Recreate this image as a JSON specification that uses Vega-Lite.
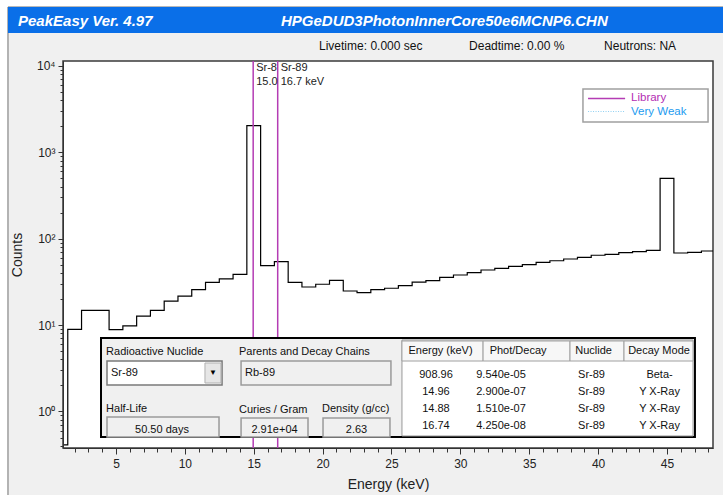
{
  "$schema": "https://vega.github.io/schema/vega-lite/v6.json",
  "width": 650,
  "height": 387,
  "autosize": {"type": "none"},
  "padding": {"left": 63, "top": 61, "right": 10, "bottom": 47},
  "background": "white",
  "config": {
    "view": {"stroke": null},
    "font": "Liberation Sans",
    "text": {"font": "Liberation Sans"}
  },
  "encoding": {
    "x": {
      "field": "energy", "type": "quantitative", "title": "Energy (keV)",
      "scale": {"domain": [1.154, 48.34], "nice": false, "zero": false},
      "axis": {
        "values": [2,3,4,5,6,7,8,9,10,11,12,13,14,15,16,17,18,19,20,21,22,23,24,25,26,27,28,29,30,31,32,33,34,35,36,37,38,39,40,41,42,43,44,45,46,47,48],
        "labelExpr": "datum.value % 5 === 0 ? datum.label : ''",
        "tickSize": {"condition": {"test": "datum.value % 5 === 0", "value": 6}, "value": 4},
        "labelOverlap": false, "labelFlush": false, "grid": false,
        "labelPadding": 4, "titlePadding": 8,
        "domainColor": "#333333", "tickColor": "#333333", "labelColor": "#222222", "titleColor": "#222222",
        "labelFontSize": 12, "titleFontSize": 14, "titleFontWeight": "normal", "zindex": 1
      }
    },
    "y": {
      "field": "counts", "type": "quantitative", "title": "Counts",
      "scale": {"type": "log", "domain": [0.378, 11398], "nice": false},
      "axis": {
        "values": [0.4,0.5,0.6,0.7,0.8,0.9,1,2,3,4,5,6,7,8,9,10,20,30,40,50,60,70,80,90,100,200,300,400,500,600,700,800,900,1000,2000,3000,4000,5000,6000,7000,8000,9000,10000],
        "labelExpr": "datum.value === 1 ? '10⁰' : datum.value === 10 ? '10¹' : datum.value === 100 ? '10²' : datum.value === 1000 ? '10³' : datum.value === 10000 ? '10⁴' : ''",
        "tickSize": {"condition": {"test": "indexof([1,10,100,1000,10000], datum.value) >= 0", "value": 5}, "value": 3},
        "labelOverlap": false, "labelFlush": false, "grid": false,
        "labelPadding": 3, "titlePadding": 12,
        "domainColor": "#333333", "tickColor": "#333333", "labelColor": "#222222", "titleColor": "#222222",
        "labelFontSize": 12, "titleFontSize": 14, "titleFontWeight": "normal", "zindex": 1
      }
    }
  },
  "layer": [
    {
      "data": {"values": [{"energy": -2.84, "energy2": 60, "counts": 48060, "counts2": 0.0555}]},
      "mark": {"type": "rect", "clip": false, "fill": "#F0F0F0", "stroke": "#707070", "strokeWidth": 1},
      "encoding": {"x2": {"field": "energy2"}, "y2": {"field": "counts2"}}
    },
    {
      "data": {"values": [{"energy": -2.84, "energy2": 60, "counts": 48060, "counts2": 24040}]},
      "mark": {"type": "rect", "clip": false, "fill": "#0A6FE8", "stroke": null},
      "encoding": {"x2": {"field": "energy2"}, "y2": {"field": "counts2"}}
    },
    {
      "data": {"values": [
        {"energy": -2.113, "counts": 33540, "label": "PeakEasy Ver. 4.97"},
        {"energy": 16.98, "counts": 33540, "label": "HPGeDUD3PhotonInnerCore50e6MCNP6.CHN"}
      ]},
      "mark": {"type": "text", "clip": false, "align": "left", "baseline": "middle", "color": "white", "fontSize": 15, "fontWeight": "bold", "fontStyle": "italic"},
      "encoding": {"text": {"field": "label"}}
    },
    {
      "data": {"values": [
        {"energy": 19.74, "counts": 16990, "label": "Livetime: 0.000 sec"},
        {"energy": 30.63, "counts": 16990, "label": "Deadtime: 0.00 %"},
        {"energy": 40.43, "counts": 16990, "label": "Neutrons: NA"}
      ]},
      "mark": {"type": "text", "clip": false, "align": "left", "baseline": "middle", "color": "#111111", "fontSize": 12},
      "encoding": {"text": {"field": "label"}}
    },
    {
      "data": {"values": [{"energy": 1.154, "energy2": 48.34, "counts": 0.378, "counts2": 11398}]},
      "mark": {"type": "rect", "clip": false, "fill": "white", "stroke": "#3A3A3A", "strokeWidth": 1.5},
      "encoding": {"x2": {"field": "energy2"}, "y2": {"field": "counts2"}}
    },
    {
      "data": {"values": [
        {"energy": 1, "counts": 0.41}, {"energy": 2, "counts": 8.94}, {"energy": 3, "counts": 14.8}, {"energy": 4, "counts": 14.8},
        {"energy": 5, "counts": 8.85}, {"energy": 6, "counts": 9.77}, {"energy": 7, "counts": 12.7}, {"energy": 8, "counts": 14.8},
        {"energy": 9, "counts": 18.9}, {"energy": 10, "counts": 21.7}, {"energy": 11, "counts": 25.7}, {"energy": 12, "counts": 31.3},
        {"energy": 13, "counts": 34.2}, {"energy": 14, "counts": 38.7}, {"energy": 15, "counts": 2032}, {"energy": 16, "counts": 48.7},
        {"energy": 17, "counts": 54.2}, {"energy": 18, "counts": 31.3}, {"energy": 19, "counts": 27.6}, {"energy": 20, "counts": 29.7},
        {"energy": 21, "counts": 33.0}, {"energy": 22, "counts": 24.8}, {"energy": 23, "counts": 23.7}, {"energy": 24, "counts": 25.7},
        {"energy": 25, "counts": 26.7}, {"energy": 26, "counts": 28.6}, {"energy": 27, "counts": 31.5}, {"energy": 28, "counts": 32.7},
        {"energy": 29, "counts": 35.7}, {"energy": 30, "counts": 38.0}, {"energy": 31, "counts": 40.4}, {"energy": 32, "counts": 43.4},
        {"energy": 33, "counts": 45.4}, {"energy": 34, "counts": 47.9}, {"energy": 35, "counts": 50.0}, {"energy": 36, "counts": 53.3},
        {"energy": 37, "counts": 55.6}, {"energy": 38, "counts": 58.2}, {"energy": 39, "counts": 60.9}, {"energy": 40, "counts": 64.3},
        {"energy": 41, "counts": 66.0}, {"energy": 42, "counts": 68.9}, {"energy": 43, "counts": 70.7}, {"energy": 44, "counts": 73.4},
        {"energy": 45, "counts": 500}, {"energy": 46, "counts": 68.3}, {"energy": 47, "counts": 69.6}, {"energy": 48, "counts": 72.1},
        {"energy": 49, "counts": 72.1}
      ]},
      "mark": {"type": "line", "interpolate": "step", "color": "#000000", "strokeWidth": 1.2, "clip": true},
      "encoding": {}
    },
    {
      "data": {"values": [
        {"energy": 14.96, "counts": 0.378, "counts2": 11398},
        {"energy": 16.74, "counts": 0.378, "counts2": 11398}
      ]},
      "mark": {"type": "rule", "color": "#B43CB4", "strokeWidth": 1.5},
      "encoding": {"y2": {"field": "counts2"}}
    },
    {
      "data": {"values": [
        {"energy": 14.96, "counts": 9456, "label": "Sr-89"},
        {"energy": 14.96, "counts": 6513, "label": "15.0 keV"}
      ]},
      "mark": {"type": "text", "align": "left", "baseline": "middle", "dx": 3, "fontSize": 11, "color": "#222222", "limit": 22, "ellipsis": "\u200b"},
      "encoding": {"text": {"field": "label"}}
    },
    {
      "data": {"values": [
        {"energy": 16.74, "counts": 9456, "label": "Sr-89"},
        {"energy": 16.74, "counts": 6513, "label": "16.7 keV"}
      ]},
      "mark": {"type": "text", "align": "left", "baseline": "middle", "dx": 3, "fontSize": 11, "color": "#222222"},
      "encoding": {"text": {"field": "label"}}
    },
    {
      "data": {"values": [{"energy": 38.90, "energy2": 47.98, "counts": 5403, "counts2": 2242}]},
      "mark": {"type": "rect", "fill": "white", "stroke": "#A0A0A0", "strokeWidth": 1.5},
      "encoding": {"x2": {"field": "energy2"}, "y2": {"field": "counts2"}}
    },
    {
      "data": {"values": [{"energy": 39.27, "energy2": 41.96, "counts": 4196}]},
      "mark": {"type": "rule", "color": "#B43CB4", "strokeWidth": 1.5},
      "encoding": {"x2": {"field": "energy2"}}
    },
    {
      "data": {"values": [{"energy": 39.27, "energy2": 41.96, "counts": 2966}]},
      "mark": {"type": "rule", "color": "#8FD0F2", "strokeWidth": 1, "strokeDash": [1, 1.5]},
      "encoding": {"x2": {"field": "energy2"}}
    },
    {
      "data": {"values": [{"energy": 42.39, "counts": 4196, "label": "Library"}]},
      "mark": {"type": "text", "align": "left", "baseline": "middle", "fontSize": 11.5, "color": "#B32DB3"},
      "encoding": {"text": {"field": "label"}}
    },
    {
      "data": {"values": [{"energy": 42.39, "counts": 2966, "label": "Very Weak"}]},
      "mark": {"type": "text", "align": "left", "baseline": "middle", "fontSize": 11.5, "color": "#1C9BEF"},
      "encoding": {"text": {"field": "label"}}
    },
    {
      "data": {"values": [{"energy": 3.913, "energy2": 47.03, "counts": 7.09, "counts2": 0.5069}]},
      "mark": {"type": "rect", "fill": "#F0F0F0", "stroke": "#000000", "strokeWidth": 2},
      "encoding": {"x2": {"field": "energy2"}, "y2": {"field": "counts2"}}
    },
    {
      "data": {"values": [{"energy": 4.348, "energy2": 12.70, "counts": 3.841, "counts2": 2.026}]},
      "mark": {"type": "rect", "fill": "white", "stroke": "#7A7A7A", "strokeWidth": 1.5},
      "encoding": {"x2": {"field": "energy2"}, "y2": {"field": "counts2"}}
    },
    {
      "data": {"values": [
        {"energy": 14.08, "energy2": 24.96, "counts": 3.841, "counts2": 2.026},
        {"energy": 4.348, "energy2": 12.48, "counts": 0.8637, "counts2": 0.5069},
        {"energy": 14.08, "energy2": 18.94, "counts": 0.8411, "counts2": 0.5069},
        {"energy": 20.03, "energy2": 24.89, "counts": 0.8411, "counts2": 0.5069}
      ]},
      "mark": {"type": "rect", "fill": "#F0F0F0", "stroke": "#9A9A9A", "strokeWidth": 1.5},
      "encoding": {"x2": {"field": "energy2"}, "y2": {"field": "counts2"}}
    },
    {
      "data": {"values": [{"energy": 11.46, "energy2": 12.62, "counts": 3.641, "counts2": 2.137}]},
      "mark": {"type": "rect", "fill": "#E6E6E6", "stroke": "#B0B0B0", "strokeWidth": 1},
      "encoding": {"x2": {"field": "energy2"}, "y2": {"field": "counts2"}}
    },
    {
      "data": {"values": [{"energy": 12.04, "counts": 2.79, "label": "▼"}]},
      "mark": {"type": "text", "align": "center", "baseline": "middle", "fontSize": 8, "color": "#000000"},
      "encoding": {"text": {"field": "label"}}
    },
    {
      "data": {"values": [{"energy": 25.76, "energy2": 46.89, "counts": 6.723, "counts2": 0.5205}]},
      "mark": {"type": "rect", "fill": "white", "stroke": "#999999", "strokeWidth": 1},
      "encoding": {"x2": {"field": "energy2"}, "y2": {"field": "counts2"}}
    },
    {
      "data": {"values": [
        {"energy": 25.76, "energy2": 31.65, "counts": 6.546, "counts2": 3.841},
        {"energy": 31.65, "energy2": 37.96, "counts": 6.546, "counts2": 3.841},
        {"energy": 37.96, "energy2": 41.88, "counts": 6.546, "counts2": 3.841},
        {"energy": 41.88, "energy2": 46.89, "counts": 6.546, "counts2": 3.841}
      ]},
      "mark": {"type": "rect", "fill": "#F7F7F7", "stroke": "#A0A0A0", "strokeWidth": 1},
      "encoding": {"x2": {"field": "energy2"}, "y2": {"field": "counts2"}}
    },
    {
      "data": {"values": [
        {"energy": 4.283, "counts": 4.885, "label": "Radioactive Nuclide"},
        {"energy": 13.93, "counts": 4.885, "label": "Parents and Decay Chains"},
        {"energy": 4.64, "counts": 2.79, "label": "Sr-89"},
        {"energy": 14.37, "counts": 2.79, "label": "Rb-89"},
        {"energy": 4.283, "counts": 1.069, "label": "Half-Life"},
        {"energy": 13.93, "counts": 1.041, "label": "Curies / Gram"},
        {"energy": 19.96, "counts": 1.069, "label": "Density (g/cc)"}
      ]},
      "mark": {"type": "text", "align": "left", "baseline": "middle", "fontSize": 11, "color": "#111111"},
      "encoding": {"text": {"field": "label"}}
    },
    {
      "data": {"values": [
        {"energy": 8.34, "counts": 0.6107, "label": "50.50 days"},
        {"energy": 16.51, "counts": 0.6107, "label": "2.91e+04"},
        {"energy": 22.46, "counts": 0.6107, "label": "2.63"},
        {"energy": 28.56, "counts": 5.014, "label": "Energy (keV)"},
        {"energy": 34.19, "counts": 5.014, "label": "Phot/Decay"},
        {"energy": 39.67, "counts": 5.014, "label": "Nuclide"},
        {"energy": 44.42, "counts": 5.014, "label": "Decay Mode"},
        {"energy": 28.23, "counts": 2.646, "label": "908.96"},
        {"energy": 28.23, "counts": 1.681, "label": "14.96"},
        {"energy": 28.23, "counts": 1.069, "label": "14.88"},
        {"energy": 28.23, "counts": 0.6796, "label": "16.74"},
        {"energy": 32.95, "counts": 2.646, "label": "9.540e-05"},
        {"energy": 32.95, "counts": 1.681, "label": "2.900e-07"},
        {"energy": 32.95, "counts": 1.069, "label": "1.510e-07"},
        {"energy": 32.95, "counts": 0.6796, "label": "4.250e-08"},
        {"energy": 39.52, "counts": 2.646, "label": "Sr-89"},
        {"energy": 39.52, "counts": 1.681, "label": "Sr-89"},
        {"energy": 39.52, "counts": 1.069, "label": "Sr-89"},
        {"energy": 39.52, "counts": 0.6796, "label": "Sr-89"},
        {"energy": 44.46, "counts": 2.646, "label": "Beta-"},
        {"energy": 44.46, "counts": 1.681, "label": "Y X-Ray"},
        {"energy": 44.46, "counts": 1.069, "label": "Y X-Ray"},
        {"energy": 44.46, "counts": 0.6796, "label": "Y X-Ray"}
      ]},
      "mark": {"type": "text", "align": "center", "baseline": "middle", "fontSize": 11, "color": "#111111"},
      "encoding": {"text": {"field": "label"}}
    }
  ]
}
